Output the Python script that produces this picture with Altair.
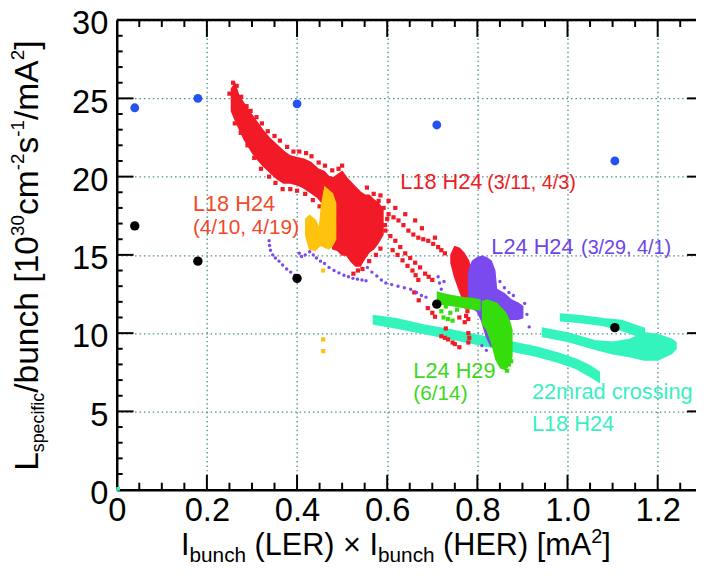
import altair as alt
import pandas as pd

FONT = "Liberation Sans"
W, H = 586, 475
XMAX = 1.285

# ---------------- data ----------------
blue_x = [0.04, 0.18, 0.40, 0.71, 1.105]
blue_y = [24.4, 25.0, 24.65, 23.3, 21.0]
black_x = [0.04, 0.18, 0.40, 0.71, 1.105]
black_y = [16.85, 14.6, 13.5, 11.85, 10.35]

# L18 H24 (3/11, 4/3) dense envelope
red_band_x = [0.255, 0.262, 0.27, 0.283, 0.30, 0.31, 0.325, 0.34, 0.355, 0.37, 0.385, 0.40, 0.415, 0.43,
              0.445, 0.46, 0.47, 0.48, 0.49, 0.50, 0.51, 0.52, 0.53, 0.54, 0.55, 0.56, 0.57, 0.58, 0.59]
red_band_lo = [24.2, 23.7, 23.2, 22.4, 21.6, 21.2, 20.7, 20.3, 19.9, 19.6, 19.6, 19.5, 19.3, 19.0,
               18.7, 18.2, 16.5, 15.4, 15.3, 15.0, 15.0, 14.6, 14.3, 14.3, 14.8, 15.2, 15.4, 15.8, 16.3]
red_band_hi = [25.6, 25.9, 25.2, 24.6, 23.9, 23.5, 22.9, 22.4, 22.0, 21.6, 21.3, 21.2, 21.1, 20.9,
               20.5, 20.3, 20.0, 19.9, 20.1, 20.3, 19.9, 19.6, 19.3, 19.0, 18.8, 18.8, 18.5, 18.3, 17.9]
red_blob_x = [0.742, 0.75, 0.76, 0.77, 0.78, 0.788]
red_blob_lo = [14.5, 13.6, 12.8, 12.0, 11.9, 12.4]
red_blob_hi = [15.0, 15.5, 15.4, 15.1, 14.6, 13.8]
red_dot_x = [0.250, 0.258, 0.266, 0.276, 0.288, 0.297, 0.31, 0.322, 0.335, 0.35, 0.362, 0.378, 0.392, 0.405,
             0.42, 0.432, 0.448, 0.462, 0.478, 0.492, 0.50,
             0.262, 0.275, 0.29, 0.305, 0.32, 0.338, 0.352, 0.368, 0.385, 0.40, 0.418, 0.435, 0.45, 0.465,
             0.581, 0.592, 0.603, 0.614, 0.625, 0.636, 0.647, 0.658, 0.669, 0.68, 0.691, 0.702, 0.713, 0.72, 0.728,
             0.603, 0.618, 0.64, 0.662, 0.677, 0.706, 0.555, 0.57, 0.585,
             0.596, 0.607, 0.618, 0.629, 0.64, 0.651, 0.662, 0.673, 0.684, 0.692, 0.70,
             0.612, 0.623, 0.634, 0.645, 0.656, 0.663, 0.669,
             0.525, 0.535, 0.545, 0.56, 0.575, 0.585, 0.595, 0.60,
             0.69, 0.70, 0.706, 0.72, 0.728, 0.735, 0.745, 0.75, 0.76, 0.78, 0.782, 0.78, 0.73, 0.76,
             0.772, 0.775, 0.778, 0.775, 0.78, 0.67, 0.66]
red_dot_y = [25.3, 26.0, 25.8, 25.1, 24.5, 24.2, 23.8, 23.4, 22.9, 22.6, 22.3, 21.9, 21.6, 21.6,
             21.5, 21.3, 20.9, 20.7, 20.4, 20.5, 20.7,
             23.4, 22.8, 22.0, 21.2, 20.5, 20.0, 19.6, 19.2, 19.2, 19.1, 18.9, 18.5, 18.1, 17.5,
             18.45, 18.0, 17.6, 17.4, 17.2, 16.9, 16.55, 16.3, 16.1, 16.0, 15.9, 15.7, 15.5, 15.3, 15.1,
             18.45, 18.0, 17.6, 17.2, 16.7, 16.1, 19.3, 18.9, 18.8,
             16.55, 16.2, 15.9, 15.5, 15.1, 14.8, 14.5, 14.2, 13.8, 13.6, 13.4,
             15.3, 15.0, 14.65, 14.3, 14.0, 13.7, 13.4,
             13.8, 14.0, 14.1, 14.6, 15.0, 15.4, 16.9, 17.3,
             11.6, 11.3, 11.05, 9.8, 9.7, 9.6, 9.4, 9.3, 9.1, 10.0, 9.7, 9.4, 10.3, 11.0,
             10.7, 11.1, 11.4, 11.7, 10.9, 12.1, 12.6]

# L18 H24 (4/10, 4/19)
yel_x = [0.42, 0.428, 0.44, 0.45, 0.455, 0.462, 0.47, 0.478, 0.485]
yel_lo = [16.2, 15.4, 15.3, 15.6, 15.6, 15.5, 15.4, 15.6, 16.0]
yel_hi = [17.3, 17.5, 17.2, 16.6, 18.2, 19.3, 19.1, 18.9, 18.3]
yel_dot_x = [0.458, 0.458, 0.458]
yel_dot_y = [14.0, 9.6, 8.85]

# L24 H24 (3/29, 4/1)
pur_x = [0.781, 0.785, 0.79, 0.80, 0.81, 0.82, 0.83, 0.838, 0.842, 0.86, 0.875, 0.89, 0.90]
pur_lo = [12.5, 11.9, 11.6, 11.4, 10.8, 9.8, 9.2, 9.2, 10.5, 10.8, 10.9, 10.9, 11.0]
pur_hi = [13.8, 14.3, 14.6, 14.8, 14.9, 14.8, 14.6, 14.0, 12.8, 12.5, 12.1, 11.9, 11.7]
pur_dot_x = [0.338, 0.339, 0.341, 0.346, 0.352, 0.36, 0.368, 0.377, 0.386, 0.395, 0.405,
             0.405, 0.41, 0.418, 0.428, 0.436, 0.443, 0.452, 0.461, 0.471, 0.482, 0.493, 0.504, 0.514,
             0.524, 0.534, 0.544, 0.553,
             0.556, 0.566, 0.577, 0.587, 0.597, 0.61, 0.624, 0.638, 0.652, 0.665, 0.676, 0.686,
             0.713, 0.716, 0.72, 0.726, 0.915, 0.905, 0.86, 0.85, 0.88, 0.81, 0.82, 0.835, 0.91, 0.895, 0.87]
pur_dot_y = [15.9, 15.6, 15.3, 15.0, 14.8, 14.6, 14.35, 14.1, 13.9, 13.7, 13.55,
             15.1, 14.9, 15.0, 15.2, 15.0, 14.8, 14.6, 14.45, 14.2, 14.0, 13.85, 13.7, 13.6,
             13.5, 13.45, 13.4, 13.35,
             14.2, 13.9, 13.65, 13.4, 13.2, 13.1, 13.0, 12.9, 12.8, 12.6, 12.4, 12.3,
             13.6, 13.2, 12.8, 13.3, 10.4, 11.9, 12.9, 13.3, 12.4, 9.2, 8.9, 10.2, 11.2, 11.5, 12.6]

# L24 H29 (6/14)
grn_band_x = [0.712, 0.73, 0.75, 0.77, 0.79, 0.805]
grn_band_lo = [11.9, 11.85, 11.75, 11.65, 11.55, 11.5]
grn_band_hi = [12.6, 12.45, 12.35, 12.25, 12.2, 12.1]
grn_blob_x = [0.812, 0.822, 0.832, 0.842, 0.852, 0.862, 0.870, 0.876]
grn_blob_lo = [10.6, 10.2, 9.4, 8.3, 7.8, 7.7, 8.0, 8.5]
grn_blob_hi = [12.0, 12.1, 12.0, 11.9, 11.6, 11.3, 10.8, 10.2]
grn_dot_x = [0.72, 0.725, 0.735, 0.745, 0.74, 0.73, 0.755, 0.87, 0.875, 0.866]
grn_dot_y = [11.4, 11.0, 10.9, 10.8, 11.3, 11.7, 11.5, 8.0, 8.2, 7.6]

# 22mrad crossing L18 H24 (three tracks)
cyA_x = [0.57, 0.62, 0.68, 0.74, 0.80, 0.87, 0.93, 0.98, 1.02, 1.05, 1.07]
cyA_lo = [10.6, 10.35, 10.0, 9.65, 9.3, 8.9, 8.55, 8.15, 7.75, 7.25, 6.9]
cyA_hi = [11.1, 10.9, 10.5, 10.2, 9.85, 9.45, 9.1, 8.7, 8.3, 7.9, 7.5]
cyB_x = [0.945, 1.0, 1.06, 1.10, 1.14, 1.17, 1.20, 1.23, 1.24]
cyB_lo = [9.8, 9.5, 9.0, 8.7, 8.5, 8.3, 8.3, 8.7, 9.0]
cyB_hi = [10.3, 10.0, 9.5, 9.4, 9.6, 10.0, 9.9, 9.6, 9.4]
cyC_x = [0.985, 1.03, 1.08, 1.12, 1.15, 1.17]
cyC_lo = [10.8, 10.7, 10.5, 10.2, 9.9, 9.7]
cyC_hi = [11.2, 11.1, 10.9, 10.8, 10.5, 10.3]
cy_dot_x = [0.003]
cy_dot_y = [0.05]

x_ticks = [0, 0.2, 0.4, 0.6, 0.8, 1.0, 1.2]
y_ticks = [0, 5, 10, 15, 20, 25, 30]
x_major = [0.2, 0.4, 0.6, 0.8, 1.0, 1.2]
x_minor = [0.05, 0.1, 0.15, 0.25, 0.3, 0.35, 0.45, 0.5, 0.55, 0.65, 0.7, 0.75, 0.85, 0.9, 0.95,
           1.05, 1.1, 1.15, 1.25]
y_major = [5, 10, 15, 20, 25]
y_minor = [1, 2, 3, 4, 6, 7, 8, 9, 11, 12, 13, 14, 16, 17, 18, 19, 21, 22, 23, 24, 26, 27, 28, 29]

labels = [
    ("L18 H24", 0.169, 17.8, 22, "#f2492a"),
    ("(4/10, 4/19)", 0.169, 16.35, 21, "#f2492a"),
    ("L18 H24", 0.629, 19.2, 22, "#ee1c25"),
    ("(3/11, 4/3)", 0.822, 19.2, 20, "#ee1c25"),
    ("L24 H24", 0.831, 15.03, 22, "#6e45e8"),
    ("(3/29, 4/1)", 1.03, 15.03, 20, "#6e45e8"),
    ("L24 H29", 0.658, 7.15, 22, "#3cd71e"),
    ("(6/14)", 0.658, 5.7, 21, "#3cd71e"),
    ("22mrad crossing", 0.921, 5.8, 22, "#38f0c0"),
    ("L18 H24", 0.921, 3.73, 22, "#38f0c0"),
]

RED, YEL, PUR, GRN, CYA = "#f21a26", "#ffc20e", "#7a4aee", "#36dd0c", "#34f4bd"

# ---------------- chart ----------------
xs = alt.Scale(domain=[0, XMAX], nice=False, zero=False)
ys = alt.Scale(domain=[0, 30], nice=False, zero=False)
AX = alt.Axis(values=x_ticks, labelExpr="datum.value == 0 ? '0' : format(datum.value, '.1f')",
              labelFontSize=33, labelFont=FONT, labelColor="black", ticks=False, tickSize=0,
              labelPadding=5, labelFlush=False, labelOverlap=False,
              domainColor="black", domainWidth=2.5, grid=True, gridColor="#4a8c8c",
              gridDash=[1.5, 3], gridWidth=1.3, title=None)
AY = alt.Axis(values=y_ticks, labelFontSize=33, labelFont=FONT, labelColor="black", ticks=False,
              tickSize=0, labelPadding=9, labelOffset=4, labelFlush=False, labelOverlap=False,
              domainColor="black", domainWidth=2.5, grid=True, gridColor="#4a8c8c",
              gridDash=[1.5, 3], gridWidth=1.3, title=None)


def X(f="x"):
    return alt.X(f"{f}:Q", scale=xs, axis=AX, title=None)


def Y(f="y"):
    return alt.Y(f"{f}:Q", scale=ys, axis=AY, title=None)


def env_df(xl, lo, hi, track="a"):
    return pd.DataFrame({"x": xl, "lo": lo, "hi": hi, "t": [track] * len(xl)})


def area(df, color):
    return alt.Chart(df).mark_area(color=color, opacity=1, interpolate="linear",
                                   stroke=color, strokeWidth=2).encode(
        x=X(), y=Y("lo"), y2="hi:Q", detail="t:N")


def dots(xl, yl, color, size, shape="square"):
    return alt.Chart(pd.DataFrame({"x": xl, "y": yl})).mark_point(
        filled=True, shape=shape, size=size, color=color, opacity=1).encode(x=X(), y=Y())


layers = []
# inward ticks and frame
layers.append(alt.Chart(pd.DataFrame({"x": x_major})).mark_rule(color="black", strokeWidth=2).encode(
    x=X(), y=alt.value(H), y2=alt.value(H - 15)))
layers.append(alt.Chart(pd.DataFrame({"x": x_major})).mark_rule(color="black", strokeWidth=2).encode(
    x=X(), y=alt.value(0), y2=alt.value(17)))
layers.append(alt.Chart(pd.DataFrame({"x": x_minor})).mark_rule(color="black", strokeWidth=2).encode(
    x=X(), y=alt.value(H), y2=alt.value(H - 7)))
layers.append(alt.Chart(pd.DataFrame({"x": x_minor})).mark_rule(color="black", strokeWidth=2).encode(
    x=X(), y=alt.value(0), y2=alt.value(7)))
layers.append(alt.Chart(pd.DataFrame({"y": y_major})).mark_rule(color="black", strokeWidth=2).encode(
    y=Y(), x=alt.value(0), x2=alt.value(17)))
layers.append(alt.Chart(pd.DataFrame({"y": y_minor})).mark_rule(color="black", strokeWidth=2).encode(
    y=Y(), x=alt.value(0), x2=alt.value(6)))
layers.append(alt.Chart(pd.DataFrame({"y": y_major})).mark_rule(color="black", strokeWidth=2).encode(
    y=Y(), x=alt.value(W - 9), x2=alt.value(W)))
layers.append(alt.Chart(pd.DataFrame({"k": [0]})).mark_rule(color="black", strokeWidth=2.5).encode(
    x=alt.value(0), x2=alt.value(W), y=alt.value(0)))

# data clouds
cyan_df = pd.concat([env_df(cyA_x, cyA_lo, cyA_hi, "A"), env_df(cyB_x, cyB_lo, cyB_hi, "B"),
                     env_df(cyC_x, cyC_lo, cyC_hi, "C")])
layers.append(area(cyan_df, CYA))
layers.append(dots(cy_dot_x, cy_dot_y, CYA, 14))
layers.append(area(env_df(red_band_x, red_band_lo, red_band_hi), RED))
layers.append(area(env_df(red_blob_x, red_blob_lo, red_blob_hi), RED))
layers.append(dots(red_dot_x, red_dot_y, RED, 18))
layers.append(dots(pur_dot_x, pur_dot_y, PUR, 12, "circle"))
layers.append(area(env_df(yel_x, yel_lo, yel_hi), YEL))
layers.append(dots(yel_dot_x, yel_dot_y, YEL, 18))
layers.append(area(env_df(pur_x, pur_lo, pur_hi), PUR))
grn_df = pd.concat([env_df(grn_band_x, grn_band_lo, grn_band_hi, "a"),
                    env_df(grn_blob_x, grn_blob_lo, grn_blob_hi, "b")])
layers.append(area(grn_df, GRN))
layers.append(dots(grn_dot_x, grn_dot_y, GRN, 18))
layers.append(dots(blue_x, blue_y, "#2452ef", 80, "circle"))
layers.append(dots(black_x, black_y, "black", 90, "circle"))

# annotations
for txt, lx, ly, fs, col in labels:
    layers.append(alt.Chart(pd.DataFrame({"x": [lx], "y": [ly]})).mark_text(
        text=txt, font=FONT, fontSize=fs, color=col, align="left", baseline="alphabetic").encode(
        x=X(), y=Y()))

# axis titles built from pieces (sub/superscripts)
CW = {' ': .278, '(': .333, ')': .333, '[': .278, ']': .278, '/': .278, ',': .278, '.': .278,
      '-': .333, '×': .584, 'A': .667, 'E': .667, 'H': .722, 'I': .278, 'L': .556, 'R': .722,
      'a': .556, 'b': .556, 'c': .5, 'd': .556, 'e': .556, 'f': .278, 'g': .556, 'h': .556,
      'i': .222, 'm': .833, 'n': .556, 'o': .556, 'p': .556, 'r': .333, 's': .5, 'u': .556}


def tw(t, s):
    return sum(CW.get(ch, .556) for ch in t) * s


def title_layers(pieces, x0, y0, angle):
    out = []
    pos = 0.0
    for t, s, sh in pieces:
        lead = len(t) - len(t.lstrip(" "))
        pos += tw(" " * lead, s)
        body = t.strip(" ")
        if angle == 0:
            px, py = x0 + pos, y0 + sh
        else:
            px, py = x0 + sh, y0 - pos
        out.append(alt.Chart(pd.DataFrame({"k": [0]})).mark_text(
            text=body, font=FONT, fontSize=s, color="black", align="left", baseline="alphabetic",
            angle=angle).encode(x=alt.value(px), y=alt.value(py)))
        pos += tw(t.lstrip(" "), s)
    return out


xt = [("I", 31, 0), ("bunch", 21, 7), (" (LER) × I", 31, 0), ("bunch", 21, 7),
      (" (HER) [mA", 31, 0), ("2", 20, -12), ("]", 31, 0)]
yt = [("L", 34, 0), ("specific", 18, 6), ("/bunch [10", 34, 0), ("30", 19, -14), ("cm", 34, 0),
      ("-2", 19, -14), ("s", 34, 0), ("-1", 19, -14), ("/mA", 34, 0), ("2", 19, -14), ("]", 34, 0)]
layers += title_layers(xt, 65, 541, 0)
layers += title_layers(yt, -80, 456, 270)

chart = alt.layer(*layers).properties(
    width=W, height=H,
    autosize=alt.AutoSizeParams(type="none"),
    padding={"left": 110, "top": 9, "right": 0, "bottom": 75},
).configure_view(stroke=None).configure(background="white")

chart.save("out.html", embed_options={"renderer": "svg", "actions": False})
